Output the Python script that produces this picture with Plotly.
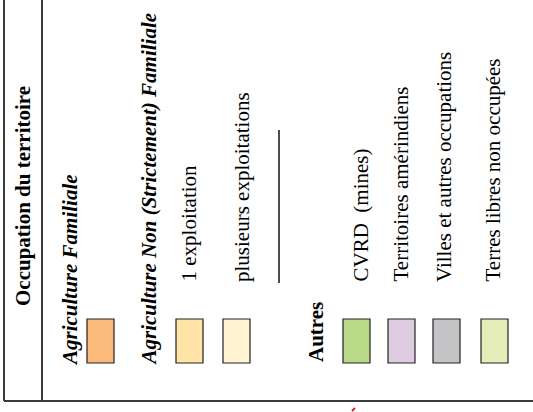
import plotly.graph_objects as go

# ---- legend content ----
title_text = "Occupation du territoire"
group_labels = ["<b><i>Agriculture Familiale</i></b>",
                "<b><i>Agriculture Non (Strictement) Familiale</i></b>",
                "<b>Autres</b>"]
sub_labels = ["1 exploitation", "plusieurs exploitations"]
autres_labels = ["CVRD&nbsp; (mines)", "Territoires amérindiens",
                 "Villes et autres occupations", "Terres libres non occupées"]
swatch_colors = ["#FBBA7A", "#FFE4A5", "#FFF3D2",
                 "#B9D989", "#DFCCE2", "#C4C4C6", "#E4EDB6"]

# ---- layout positions (pixels) ----
W, H = 533, 412
FONT = "Liberation Serif, Times New Roman, serif"
FS = 21

fig = go.Figure()
fig.add_trace(go.Scatter(x=[0, W], y=[0, H], mode="markers",
                         marker=dict(opacity=0), hoverinfo="skip", showlegend=False))

shapes = []
line_col = "#3a3a3a"
# frame lines
shapes.append(dict(type="line", x0=4, x1=4, y0=0, y1=401, line=dict(color=line_col, width=2)))
shapes.append(dict(type="line", x0=42, x1=42, y0=0, y1=401, line=dict(color=line_col, width=2)))
shapes.append(dict(type="line", x0=4, x1=W, y0=401, y1=401, line=dict(color=line_col, width=2)))
# divider
shapes.append(dict(type="line", x0=279, x1=279, y0=130, y1=283, line=dict(color="#111", width=1.5)))
# tiny red mark
shapes.append(dict(type="line", x0=352, x1=355, y0=411, y1=408, line=dict(color="#e02020", width=2)))

swatch_x = [87, 176, 223, 343, 388, 433, 481]
for x0, col in zip(swatch_x, swatch_colors):
    shapes.append(dict(type="rect", x0=x0, x1=x0 + 27, y0=319, y1=363,
                       fillcolor=col, line=dict(color="#222", width=1.2)))

ann = []
def add(text, xc, ybottom, size=FS):
    ann.append(dict(text=text, x=xc, y=ybottom, xref="x", yref="y",
                    xanchor="center", yanchor="bottom", textangle=-90,
                    showarrow=False, font=dict(family=FONT, size=size, color="#000")))

add("<b>" + title_text + "</b>", 23, 308)
add(group_labels[0], 70, 368)
add(group_labels[1], 148, 368)
for xc, t in zip([188, 242], sub_labels):
    add(t, xc, 284)
add(group_labels[2], 316, 364)
for xc, t in zip([360, 400, 444, 492], autres_labels):
    add(t, xc, 284)

fig.update_layout(width=W, height=H, margin=dict(l=0, r=0, t=0, b=0),
                  paper_bgcolor="white", plot_bgcolor="white",
                  xaxis=dict(range=[0, W], visible=False, fixedrange=True),
                  yaxis=dict(range=[H, 0], visible=False, fixedrange=True),
                  shapes=shapes, annotations=ann, showlegend=False)
fig.write_html("out.html", config={"displayModeBar": False},
               post_script="document.body.style.margin='0';document.body.style.overflow='hidden';")
